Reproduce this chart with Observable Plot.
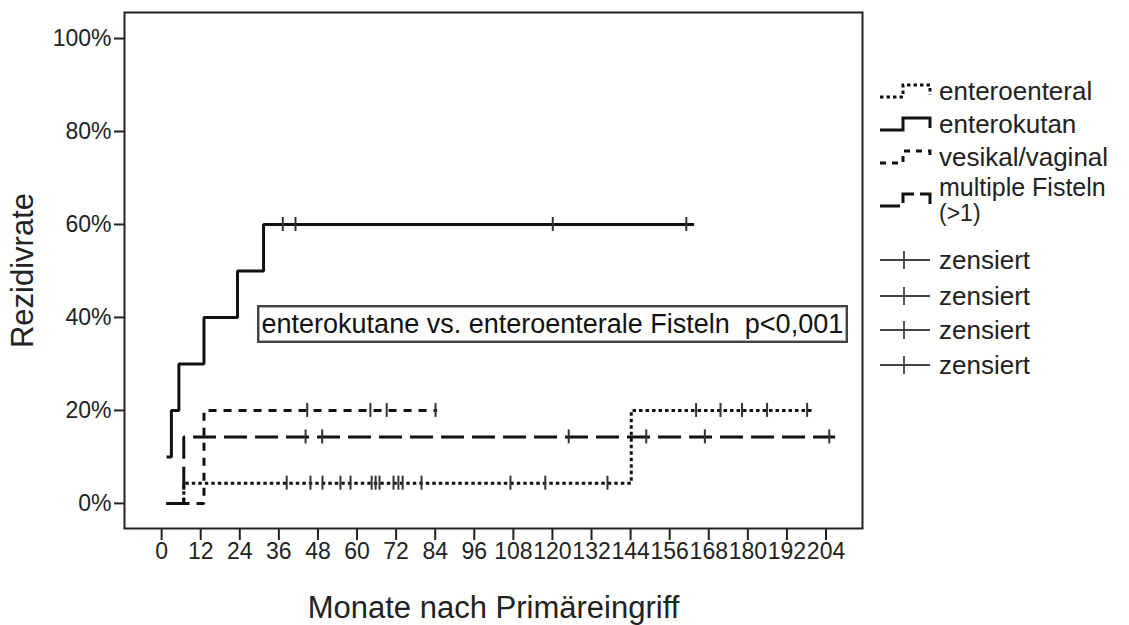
<!DOCTYPE html>
<html>
<head>
<meta charset="utf-8">
<script src="https://cdn.jsdelivr.net/npm/d3@7"></script>
<script src="https://cdn.jsdelivr.net/npm/@observablehq/plot@0.6"></script>
<style>
  body { margin: 0; background: white; }
  #wrap { position: relative; width: 1129px; height: 625px; font-family: 'Liberation Sans', Arial, sans-serif; }
  #note { position: absolute; border: 2px solid #444; box-shadow: 0 0 0 1px #aaa inset; font-size: 27px; line-height: 34px; padding: 0 3px; white-space: pre; color: #111; background: white; }
  #legend { position: absolute; left: 868px; top: 0px; }
</style>
</head>
<body>
<div id="wrap"></div>
<script>
// ---- data ----
const xTicks = [0, 12, 24, 36, 48, 60, 72, 84, 96, 108, 120, 132, 144, 156, 168, 180, 192, 204];
const yTicks = [0, 20, 40, 60, 80, 100];

const groups = ["enteroenteral", "enterokutan", "vesikal/vaginal", "multiple Fisteln (>1)"];

// step curves (time in months, cumulative recurrence in %)
const enteroenteralT = [1.5, 6.8, 144.2, 199.7];
const enteroenteralV = [0, 4.35, 20, 20];
const enterokutanT = [1.5, 3, 5.3, 13, 23.3, 31.3, 163.5];
const enterokutanV = [10, 20, 30, 40, 50, 60, 60];
const vesikalT = [1.5, 13, 84.6];
const vesikalV = [0, 20, 20];
const multipleT = [1.5, 6.8, 206.8];
const multipleV = [0, 14.3, 14.3];

// censored observations
const censEnteroenteralLowT = [38.4, 45.7, 49.4, 54.9, 58.0, 64.5, 65.7, 66.9, 71.2, 72.7, 74.0, 79.8, 107.1, 117.8, 136.9];
const censEnteroenteralLowV = 4.35;
const censEnteroenteralHighT = [164.1, 171.6, 178.2, 185.9, 198.2];
const censEnteroenteralHighV = 20;
const censEnterokutanT = [37.2, 41.1, 120.1, 161.1];
const censEnterokutanV = 60;
const censVesikalT = [44.7, 64.1, 69.1, 84.1];
const censVesikalV = 20;
const censMultipleT = [44.2, 49.3, 125.0, 148.8, 166.8, 205.0];
const censMultipleV = 14.3;

const noteText = "enterokutane vs. enteroenterale Fisteln  p<0,001";
const noteX = 29.3, noteY = 42.6; // top-left anchor in data units

// ---- build tables ----
const toRows = (T, V) => T.map((t, i) => ({t, v: V[i]}));
const curves = [
  {rows: toRows(enteroenteralT, enteroenteralV), dash: "3.5,3"},
  {rows: toRows(enterokutanT, enterokutanV), dash: null},
  {rows: toRows(vesikalT, vesikalV), dash: "8,7"},
  {rows: toRows(multipleT, multipleV), dash: "23,8"}
];
const censored = [
  ...censEnteroenteralLowT.map(t => ({t, v: censEnteroenteralLowV})),
  ...censEnteroenteralHighT.map(t => ({t, v: censEnteroenteralHighV})),
  ...censEnterokutanT.map(t => ({t, v: censEnterokutanV})),
  ...censVesikalT.map(t => ({t, v: censVesikalV})),
  ...censMultipleT.map(t => ({t, v: censMultipleV}))
];

const font = "'Liberation Sans', Arial, sans-serif";

const plot = Plot.plot({
  width: 1129,
  height: 625,
  marginLeft: 124,
  marginRight: 267,
  marginTop: 12,
  marginBottom: 97,
  style: {fontFamily: font, fontSize: "23px", color: "#222", background: "white", overflow: "visible"},
  x: {domain: [-11.4, 215.2]},
  y: {domain: [-5.4, 105.6]},
  marks: [
    Plot.frame({stroke: "#222", strokeWidth: 2}),
    Plot.axisX(xTicks, {tickSize: 12, tickPadding: 2, label: null, fontSize: 23, tickFormat: d => String(d), strokeWidth: 2}),
    Plot.axisY(yTicks, {tickSize: 10, tickPadding: 3, label: null, fontSize: 23, tickFormat: d => d + "%", strokeWidth: 2}),
    ...curves.map(c => Plot.line(c.rows, {
      x: "t", y: "v", curve: "step-after", stroke: "#111", strokeWidth: 3,
      strokeDasharray: c.dash, strokeLinecap: "butt", strokeLinejoin: "miter"
    })),
    Plot.ruleX(censored, {x: "t", y1: "v", y2: "v", insetTop: -7, insetBottom: -7, stroke: "#333", strokeWidth: 2}),
    Plot.text(["Monate nach Primäreingriff"], {frameAnchor: "bottom", lineAnchor: "middle", textAnchor: "middle", dy: 80, fontSize: 31, fill: "#222"}),
    Plot.text(["Rezidivrate"], {frameAnchor: "left", lineAnchor: "middle", textAnchor: "middle", dx: -101, rotate: -90, fontSize: 31, fill: "#222"})
  ]
});

const wrap = document.getElementById("wrap");
wrap.appendChild(plot);

// annotation box, placed through the plot's scales
const sx = plot.scale("x"), sy = plot.scale("y");
const note = document.createElement("div");
note.id = "note";
note.textContent = noteText;
note.style.left = sx.apply(noteX) + "px";
note.style.top = sy.apply(noteY) + "px";
wrap.appendChild(note);

// legend
const legendItems = [
  {label: ["enteroenteral"], dash: "3.5,3", cy: 91, kind: "step"},
  {label: ["enterokutan"], dash: null, cy: 124, kind: "step"},
  {label: ["vesikal/vaginal"], dash: "6,6", cy: 157, kind: "step"},
  {label: ["multiple Fisteln", "(>1)"], dash: "20,6", cy: 200, kind: "step"},
  {label: ["zensiert"], cy: 260, kind: "cens"},
  {label: ["zensiert"], cy: 296, kind: "cens"},
  {label: ["zensiert"], cy: 330, kind: "cens"},
  {label: ["zensiert"], cy: 365, kind: "cens"}
];
const FS = 26;
const lsvg = d3.select(wrap).append("svg").attr("id", "legend").attr("width", 261).attr("height", 400)
  .style("font-family", font);
for (const it of legendItems) {
  const g = lsvg.append("g");
  if (it.kind === "step") {
    const yb = it.cy + 6, yt = it.cy - 6;
    g.append("path")
      .attr("d", `M12,${yb}H35V${yt}H62V${yb - 2}`)
      .attr("fill", "none").attr("stroke", "#111").attr("stroke-width", 3)
      .attr("stroke-dasharray", it.dash);
    if (it.label.length === 1) {
      g.append("text").attr("x", 71).attr("y", it.cy).attr("dy", "0.36em").attr("font-size", FS).attr("fill", "#222").text(it.label[0]);
    } else {
      g.append("text").attr("x", 71).attr("y", it.cy - 13).attr("dy", "0.36em").attr("font-size", FS - 1).attr("fill", "#222").text(it.label[0]);
      g.append("text").attr("x", 71).attr("y", it.cy + 13).attr("dy", "0.36em").attr("font-size", FS - 3).attr("fill", "#222").text(it.label[1]);
    }
  } else {
    g.append("path").attr("d", `M12,${it.cy}H62M36,${it.cy - 9}V${it.cy + 9}`)
      .attr("fill", "none").attr("stroke", "#444").attr("stroke-width", 1.8);
    g.append("text").attr("x", 71).attr("y", it.cy).attr("dy", "0.36em").attr("font-size", FS).attr("fill", "#222").text(it.label[0]);
  }
}
</script>
</body>
</html>
